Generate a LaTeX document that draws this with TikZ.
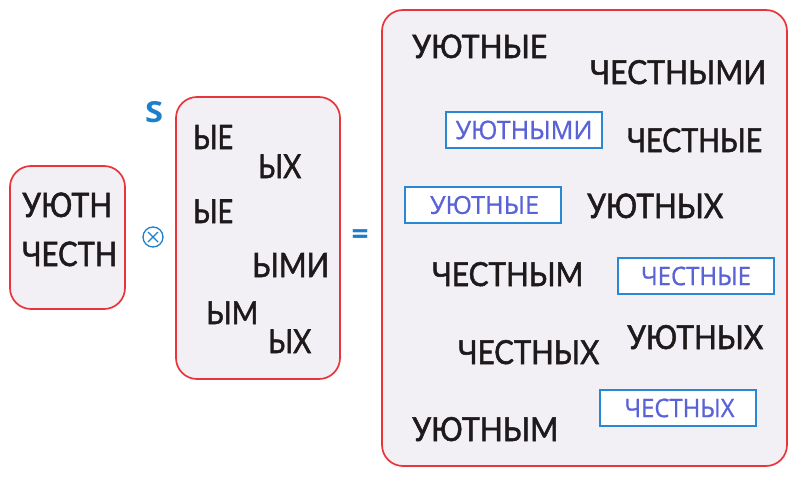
\documentclass[tikz,border=0pt]{standalone}
\usepackage{fontspec}
\setmainfont{Lato}
\newfontfamily\wordfont{Lato}[FakeBold=1.6]
\newfontfamily\boxfont{Open Sans}[FakeBold=0.8]
\newfontfamily\symbfont{Open Sans}
\definecolor{panelred}{HTML}{E8353B}
\definecolor{panelfill}{HTML}{F2EFF5}
\definecolor{ink}{HTML}{1E1A1B}
\definecolor{accent}{HTML}{1B7FCC}
\definecolor{hltext}{HTML}{5A62D8}
\definecolor{hlframe}{HTML}{2A88D2}
\newcommand{\fitt}[3]{\resizebox{#1pt}{#2pt}{#3}}
\tikzset{
  panel/.style={draw=panelred, fill=panelfill, line width=1.7pt, rounded corners=21pt},
  word/.style={anchor=base west, inner sep=0pt, text=ink, font=\wordfont},
  hl/.style={draw=hlframe, fill=white, line width=1.2pt, inner sep=0pt, text=hltext, font=\boxfont},
  sym/.style={inner sep=0pt, text=accent},
  opcircle/.style={circle, draw=accent, line width=1.3pt, minimum size=20pt, inner sep=0pt,
    path picture={\draw[accent, line width=1.3pt]
      ([shift={(-5pt,-5pt)}]path picture bounding box.center) -- ([shift={(5pt,5pt)}]path picture bounding box.center)
      ([shift={(-5pt,5pt)}]path picture bounding box.center) -- ([shift={(5pt,-5pt)}]path picture bounding box.center);}}
}
\begin{document}
\begin{tikzpicture}[x=1pt,y=-1pt]
\useasboundingbox (0,0) rectangle (798,479);
% panels
\node[panel, minimum width=115pt, minimum height=143pt] (left) at (67.5,237.5) {};
\node[panel, minimum width=164pt, minimum height=282pt] (mid) at (258,238) {};
\node[panel, minimum width=405pt, minimum height=456pt] (right) at (584.5,238) {};
% left stems
\node[word] (s1) at (22,217) {\fitt{90}{24.5}{УЮТН}};
\node[word] (s2) at (22,266) {\fitt{95}{24.5}{ЧЕСТН}};
% operator symbols
\node[sym, font=\symbfont\bfseries] (S) at (154,112) {\fitt{18}{21}{S}};
\node[opcircle] (otimes) at (153,237) {};
\node[sym, font=\symbfont\bfseries, anchor=center] (eq) at (360,237) {\resizebox{17pt}{!}{=}};
% endings
\node[word] (e1) at (193,149) {\fitt{40}{24}{ЫЕ}};
\node[word] (e2) at (258,178) {\fitt{43}{23.5}{ЫХ}};
\node[word] (e3) at (193,223) {\fitt{40}{23.5}{ЫЕ}};
\node[word] (e4) at (252,277) {\fitt{77}{24}{ЫМИ}};
\node[word] (e5) at (206,324) {\fitt{52}{22.5}{ЫМ}};
\node[word] (e6) at (268,353) {\fitt{43}{23.5}{ЫХ}};
% results
\node[word] (r1) at (412,58) {\fitt{135}{23.5}{УЮТНЫЕ}};
\node[word] (r2) at (590,84) {\fitt{176}{24}{ЧЕСТНЫМИ}};
\node[word] (r3) at (627,152) {\fitt{135}{24}{ЧЕСТНЫЕ}};
\node[word] (r4) at (587,218) {\fitt{136}{24.5}{УЮТНЫХ}};
\node[word] (r5) at (432,286) {\fitt{151}{24}{ЧЕСТНЫМ}};
\node[word] (r6) at (458,364) {\fitt{141}{24}{ЧЕСТНЫХ}};
\node[word] (r7) at (627,349) {\fitt{136}{24}{УЮТНЫХ}};
\node[word] (r8) at (412,441) {\fitt{146}{24}{УЮТНЫМ}};
% highlighted results
\node[hl, minimum width=156pt, minimum height=36pt] (h1) at (524,130) {\fitt{137}{18.5}{УЮТНЫМИ}};
\node[hl, minimum width=156pt, minimum height=36pt] (h2) at (483,205) {\hspace{3pt}\fitt{109}{18}{УЮТНЫЕ}};
\node[hl, minimum width=156pt, minimum height=36pt] (h3) at (696,276) {\fitt{110}{18.5}{ЧЕСТНЫЕ}};
\node[hl, minimum width=156pt, minimum height=36pt] (h4) at (678,408) {\hspace{3pt}\fitt{110}{18.5}{ЧЕСТНЫХ}};
\end{tikzpicture}
\end{document}
